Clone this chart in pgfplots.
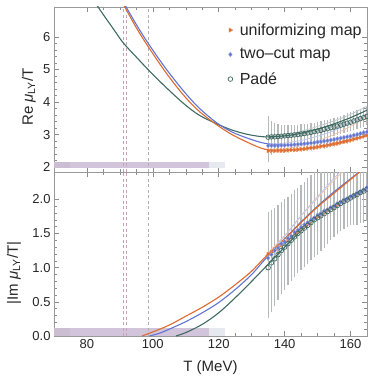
\documentclass[border=0pt]{standalone}
\usepackage{pgfplots}
\pgfplotsset{compat=1.18}
\usepackage{pgfplotstable}
\usepackage{fontspec}
\setmainfont{Liberation Sans}
\definecolor{cor}{RGB}{221,106,44}
\definecolor{cbl}{RGB}{96,116,208}
\definecolor{cgr}{RGB}{62,106,98}
\definecolor{cband}{RGB}{210,196,218}
\definecolor{cband2}{RGB}{230,234,240}
\definecolor{cdash}{RGB}{195,165,185}
\definecolor{cdash2}{RGB}{175,175,180}
\definecolor{cerr}{RGB}{182,186,186}
\definecolor{cerro}{RGB}{242,190,165}

\pgfplotstableread{
T o b g gep gem
135 2.50 2.66 2.92 0.65 0.75
136 2.50 2.66 2.93 0.50 0.55
137 2.50 2.66 2.93 0.42 0.45
138 2.51 2.66 2.94 0.38 0.40
139 2.51 2.67 2.95 0.35 0.37
140 2.51 2.67 2.96 0.33 0.35
141 2.52 2.68 2.97 0.32 0.33
142 2.53 2.68 2.98 0.31 0.32
143 2.53 2.69 2.99 0.30 0.31
144 2.54 2.70 3.00 0.30 0.30
145 2.55 2.71 3.02 0.29 0.30
146 2.56 2.72 3.03 0.29 0.29
147 2.58 2.73 3.05 0.28 0.29
148 2.59 2.74 3.07 0.28 0.28
149 2.60 2.75 3.09 0.28 0.28
150 2.62 2.77 3.11 0.28 0.28
151 2.64 2.78 3.13 0.28 0.28
152 2.65 2.80 3.16 0.28 0.28
153 2.67 2.81 3.18 0.28 0.28
154 2.69 2.83 3.21 0.28 0.28
155 2.71 2.85 3.23 0.28 0.28
156 2.73 2.87 3.26 0.29 0.28
157 2.76 2.89 3.29 0.29 0.28
158 2.78 2.91 3.32 0.29 0.28
159 2.80 2.93 3.35 0.30 0.28
160 2.83 2.95 3.38 0.30 0.28
161 2.86 2.98 3.42 0.30 0.28
162 2.89 3.00 3.45 0.31 0.28
163 2.92 3.03 3.49 0.31 0.28
164 2.95 3.06 3.52 0.32 0.28
165 2.98 3.08 3.56 0.32 0.28
}\tabup

\pgfplotstableread{
T o b g gep gem
135 1.20 1.14 1.00 0.82 0.74
136 1.22 1.19 1.07 0.78 0.72
137 1.26 1.25 1.13 0.75 0.69
138 1.31 1.29 1.19 0.73 0.66
139 1.33 1.35 1.25 0.71 0.64
140 1.37 1.38 1.30 0.70 0.62
141 1.41 1.43 1.35 0.69 0.61
142 1.46 1.46 1.40 0.68 0.60
143 1.50 1.52 1.45 0.68 0.59
144 1.53 1.55 1.50 0.67 0.58
145 1.58 1.59 1.54 0.67 0.58
146 1.61 1.63 1.58 0.68 0.57
147 1.65 1.66 1.62 0.69 0.56
148 1.68 1.70 1.66 0.69 0.55
149 1.72 1.73 1.70 0.70 0.55
150 1.75 1.77 1.73 0.70 0.54
151 1.78 1.79 1.76 0.68 0.52
152 1.81 1.83 1.79 0.66 0.50
153 1.84 1.85 1.82 0.64 0.47
154 1.87 1.88 1.85 0.62 0.45
155 1.89 1.90 1.88 0.60 0.43
156 1.92 1.94 1.91 0.57 0.42
157 1.95 1.96 1.94 0.55 0.41
158 1.98 1.99 1.97 0.53 0.41
159 2.00 2.01 1.99 0.51 0.40
160 2.03 2.04 2.02 0.50 0.40
161 2.05 2.06 2.05 0.50 0.42
162 2.08 2.09 2.07 0.50 0.44
163 2.10 2.11 2.10 0.50 0.45
164 2.13 2.14 2.12 0.50 0.46
165 2.16 2.17 2.15 0.50 0.47
}\tablo

\pgfplotsset{
  mystyle/.style={
    scale only axis, width=313bp,
    xmin=70, xmax=165,
    axis line style={color=black!40},
    tick style={color=black!45, line width=0.5bp},
    tick align=inside,
    xtick={80,100,...,160}, minor x tick num=3,
    major tick length=5bp, minor tick length=3bp,
    ticklabel style={font=\fontsize{13bp}{15bp}\selectfont, color=black!85},
    /pgf/number format/assume math mode=true,
    label style={font=\fontsize{15bp}{18bp}\selectfont, color=black!85},
    clip=true,
  },
  errstyle/.style={draw=none, mark=none, forget plot,
    error bars/.cd, y dir=both, y explicit, error mark=none,
    error bar style={draw=cerr, line width=1.3bp}},
}

\begin{document}
\begin{tikzpicture}
% ---------------- upper panel ----------------
\begin{axis}[mystyle,
  at={(0,164bp)}, anchor=south west, height=165bp,
  ymin=1.85, ymax=6.92,
  ytick={2,3,4,5,6}, minor y tick num=4,
  xticklabels={},
  ylabel={Re \textit{μ}\textsubscript{LY}/T},
  ylabel style={at={(rel axis cs:-0.08,0.455)}, anchor=center},
  legend style={draw=none, fill=none, at={(rel axis cs:0.546,0.925)}, anchor=north west,
    font=\fontsize{16bp}{19bp}\selectfont, row sep=8bp, text=black!85,
    /tikz/every odd column/.append style={column sep=5bp}},
  legend cell align=left,
]
\addplot[fill=cband2, draw=none, forget plot] coordinates {(70,1.97)(122,1.97)(122,2.15)(70,2.15)} -- cycle;
\addplot[fill=cband, draw=none, forget plot] coordinates {(70,1.97)(117,1.97)(117,2.15)(70,2.15)} -- cycle;
\addplot[fill=cband!80!black!90, fill opacity=0.2, draw=none, forget plot] coordinates {(70,1.97)(75,1.97)(75,2.15)(70,2.15)} -- cycle;
\addplot[cdash, dash pattern=on 3bp off 2.5bp, line width=0.6bp, forget plot] coordinates {(90.9,1.85)(90.9,6.92)};
\addplot[cdash, dash pattern=on 3bp off 2.5bp, line width=0.6bp, forget plot] coordinates {(91.8,1.85)(91.8,6.92)};
\addplot[cdash2, dash pattern=on 3bp off 2.5bp, line width=0.6bp, forget plot] coordinates {(98.6,1.85)(98.6,6.92)};
% error bars
\addplot[errstyle] table[x=T, y=g, y error plus=gep, y error minus=gem] {\tabup};
\addplot[draw=none, mark=none, forget plot, error bars/.cd, y dir=both, y fixed=0.08, error mark=none,
  error bar style={draw=cerro, line width=0.8bp}] table[x=T, y=o] {\tabup};
% faint lines
\addplot[cor!40, line width=0.8bp, smooth, forget plot] coordinates {(135,2.52)(140,2.56)(145,2.66)(150,2.81)(155,3.0)(160,3.25)(165,3.55)};
\addplot[cbl!40, line width=0.8bp, smooth, forget plot] coordinates {(135,2.70)(140,2.74)(145,2.82)(150,2.95)(155,3.12)(160,3.36)(165,3.65)};
\addplot[cgr!35, line width=0.8bp, smooth, forget plot] coordinates {(135,2.93)(140,2.99)(145,3.1)(150,3.25)(155,3.42)(160,3.62)(165,3.87)};
% curves
\addplot[cgr, line width=1.1bp, smooth, forget plot] coordinates {(82.5,7.05)(83.4,6.92)(85,6.68)(88,6.25)(91,5.82)(95,5.38)(99,4.95)(104,4.45)(109.4,3.95)(114,3.6)(119.4,3.33)(124,3.14)(129,3.0)(134,2.93)(140,2.96)(145,3.04)(150,3.17)(155,3.33)(160,3.52)(165,3.75)};
\addplot[cor, line width=1.1bp, smooth, forget plot] coordinates {(91.2,7.0)(91.5,6.92)(95,6.28)(98.6,5.7)(104,4.9)(109.4,4.2)(114,3.72)(119.4,3.3)(124,3.0)(129,2.75)(134,2.55)(140,2.52)(145,2.56)(150,2.63)(155,2.73)(160,2.85)(165,2.98)};
\addplot[cbl, line width=1.1bp, smooth, forget plot] coordinates {(91.6,7.0)(91.9,6.92)(95,6.38)(98.6,5.8)(104,5.02)(109.4,4.33)(114,3.82)(119.4,3.36)(124,3.08)(129,2.88)(134,2.73)(140,2.68)(145,2.71)(150,2.77)(155,2.85)(160,2.96)(165,3.09)};
% points
\addplot[only marks, mark=triangle*, mark size=2.4bp, mark options={rotate=-90, fill=cor, draw=cor!80}, cor] table[x=T, y=o] {\tabup};
\addlegendentry{uniformizing map}
\addplot[only marks, mark=diamond*, mark size=2.4bp, mark options={fill=cbl, draw=cbl!60}, cbl] table[x=T, y=b] {\tabup};
\addlegendentry{two{\textendash}cut map}
\addplot[only marks, mark=o, mark size=2.3bp, mark options={draw=cgr, line width=0.7bp}, cgr] table[x=T, y=g] {\tabup};
\addlegendentry{Padé}
\end{axis}
% ---------------- lower panel ----------------
\begin{axis}[mystyle,
  at={(0,0)}, anchor=south west, height=164bp,
  ymin=0, ymax=2.4,
  ytick={0,0.5,1.0,1.5,2.0}, minor y tick num=4,
  yticklabel style={/pgf/number format/.cd, fixed, fixed zerofill, precision=1},
  xlabel={T (MeV)},
  xlabel style={yshift=-5bp},
  ylabel={|Im \textit{μ}\textsubscript{LY}/T|},
  ylabel style={at={(rel axis cs:-0.128,0.385)}, anchor=center},
]
\addplot[fill=cband2, draw=none] coordinates {(70,0)(122,0)(122,0.11)(70,0.11)} -- cycle;
\addplot[fill=cband, draw=none] coordinates {(70,0)(117,0)(117,0.11)(70,0.11)} -- cycle;
\addplot[fill=cband!80!black!90, fill opacity=0.2, draw=none] coordinates {(70,0)(75,0)(75,0.11)(70,0.11)} -- cycle;
\addplot[cdash, dash pattern=on 3bp off 2.5bp, line width=0.6bp] coordinates {(90.9,0)(90.9,2.4)};
\addplot[cdash, dash pattern=on 3bp off 2.5bp, line width=0.6bp] coordinates {(91.8,0)(91.8,2.4)};
\addplot[cdash2, dash pattern=on 3bp off 2.5bp, line width=0.6bp] coordinates {(98.6,0)(98.6,2.4)};
\addplot[errstyle] table[x=T, y=g, y error plus=gep, y error minus=gem] {\tablo};
% faint lines
\addplot[cor!40, line width=0.8bp, smooth] coordinates {(134,1.17)(140,1.47)(145,1.76)(150,2.02)(155,2.28)(158,2.42)};
\addplot[cbl!40, line width=0.8bp, smooth] coordinates {(134,1.14)(140,1.46)(145,1.76)(150,2.04)(155,2.31)(157.5,2.43)};
% curves
\addplot[cgr, line width=1.1bp, smooth] coordinates {(107,0)(110,0.05)(115,0.17)(120,0.34)(125,0.56)(130,0.8)(134,1.0)(140,1.3)(145,1.54)(150,1.73)(155,1.88)(160,2.02)(165,2.15)};
\addplot[cbl, line width=1.1bp, smooth] coordinates {(99,0)(102,0.04)(105,0.1)(110,0.21)(115,0.34)(120,0.49)(125,0.68)(130,0.9)(134,1.12)(140,1.42)(145,1.67)(150,1.9)(155,2.11)(160,2.3)(164,2.45)};
\addplot[cor, line width=1.1bp, smooth] coordinates {(96.7,0)(100,0.06)(105,0.16)(110,0.29)(115,0.42)(120,0.57)(125,0.75)(130,0.95)(134,1.15)(140,1.42)(145,1.66)(150,1.89)(155,2.09)(160,2.29)(163.5,2.43)};
% points
\addplot[only marks, mark=triangle*, mark size=2.4bp, mark options={rotate=-90, fill=cor, draw=cor!80}, cor] table[x=T, y=o] {\tablo};
\addplot[only marks, mark=diamond*, mark size=2.4bp, mark options={fill=cbl, draw=cbl!60}, cbl] table[x=T, y=b] {\tablo};
\addplot[only marks, mark=o, mark size=2.3bp, mark options={draw=cgr, line width=0.7bp}, cgr] table[x=T, y=g] {\tablo};
\end{axis}
\pgfresetboundingbox
\useasboundingbox (-54bp,-41bp) rectangle (314bp,336bp);
\end{tikzpicture}
\end{document}
